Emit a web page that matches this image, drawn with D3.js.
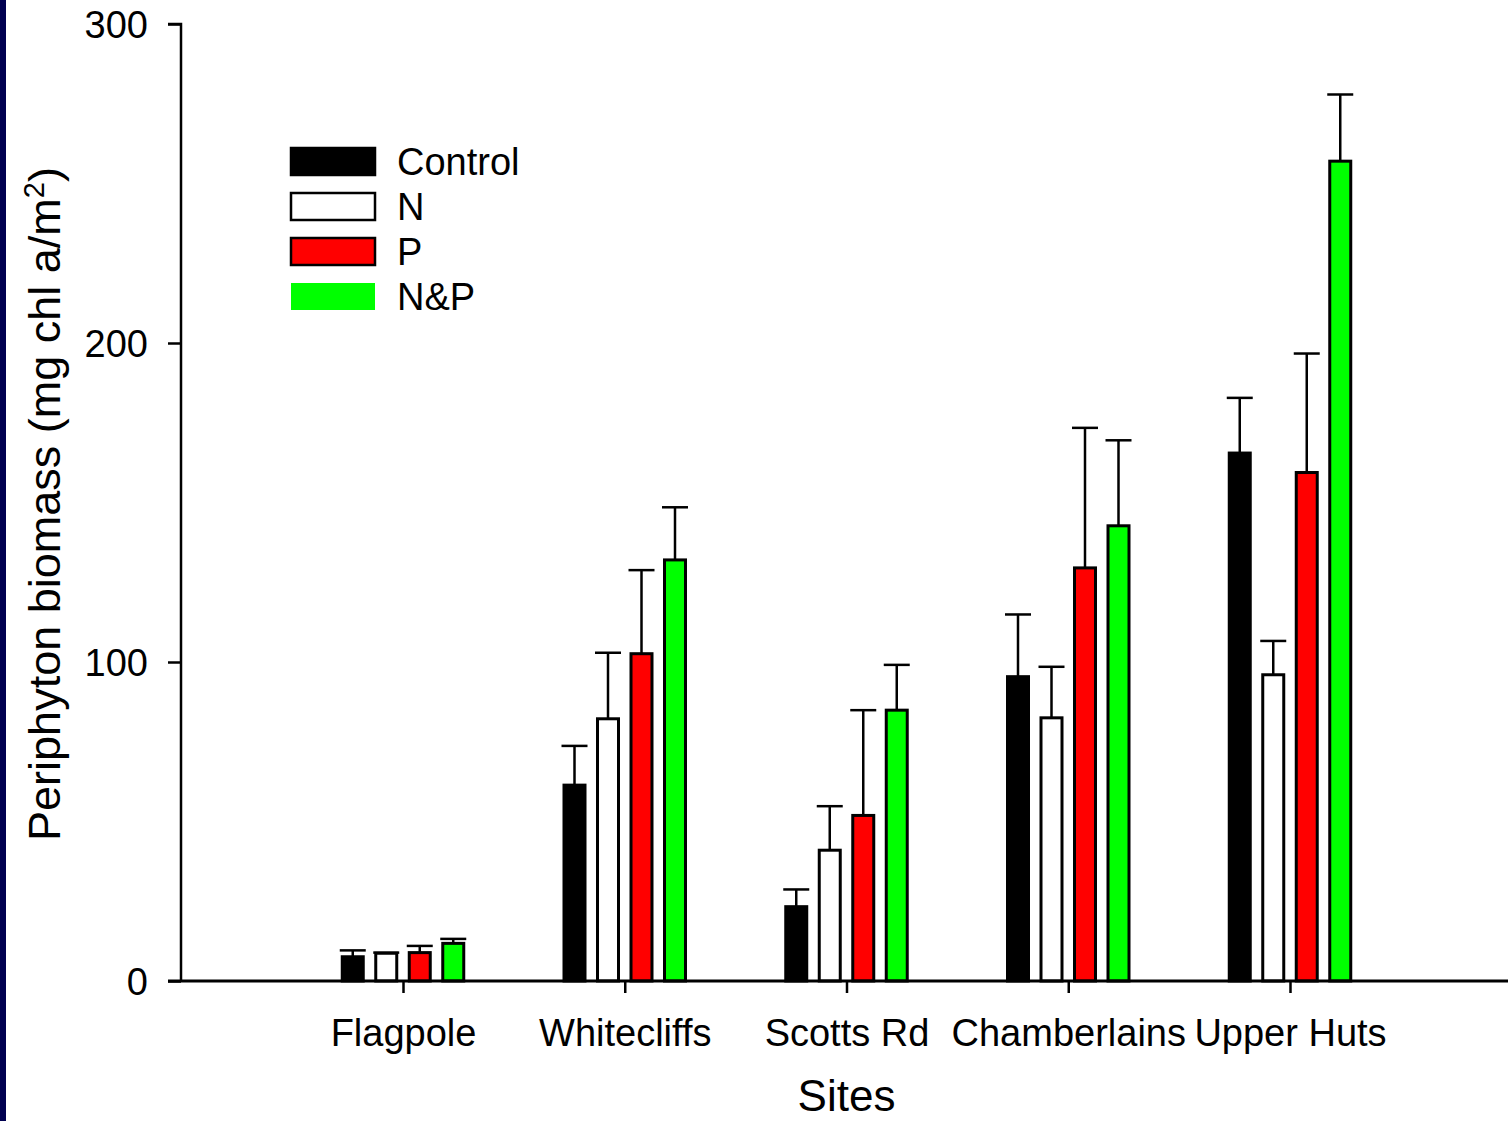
<!DOCTYPE html>
<html>
<head>
<meta charset="utf-8">
<script src="https://cdn.jsdelivr.net/npm/d3@7"></script>
<style>
  body { margin: 0; background: #fff; }
  svg text { font-family: Arial, "Liberation Sans", sans-serif; fill: #000; }
</style>
</head>
<body>
<svg id="chart"></svg>
<script>
// sites and treatments
var sites = ["Flagpole", "Whitecliffs", "Scotts Rd", "Chamberlains", "Upper Huts"];
var treatments = ["Control", "N", "P", "N&P"];
var colors = ["#000000", "#ffffff", "#ff0000", "#00ff00"];

// means per treatment (same order as sites)
var controlMean = [7.6, 61.4, 23.3, 95.4, 165.5];
var nMean = [8.7, 82.2, 41.0, 82.5, 96.0];
var pMean = [8.9, 102.6, 51.9, 129.5, 159.4];
var npMean = [11.8, 132.0, 84.9, 142.7, 257.0];

// upper error (SE) per treatment
var controlErr = [2.0, 12.3, 5.4, 19.5, 17.3];
var nErr = [0.2, 20.7, 13.8, 16.0, 10.6];
var pErr = [2.1, 26.2, 33.0, 43.9, 37.3];
var npErr = [1.4, 16.5, 14.2, 26.8, 20.9];

var yTicks = [0, 100, 200, 300];

var means = [controlMean, nMean, pMean, npMean];
var errs = [controlErr, nErr, pErr, npErr];

var W = 1508, H = 1121;
var svg = d3.select("#chart").attr("width", W).attr("height", H);

svg.append("rect").attr("x", 0).attr("y", 0).attr("width", 6).attr("height", H).attr("fill", "#000050");

var x0 = 181, x1 = 1508, yTop = 24, yBot = 981;

// sites sit at 1..5 on a 0..6 axis
var x = d3.scaleLinear().domain([0, 6]).range([181.25, 1511.75]);
var y = d3.scaleLinear().domain([0, 300]).range([yBot, yTop]);

var barStep = 33.5, barW = 21;
var offs = d3.scaleLinear().domain([0, 3]).range([-1.5 * barStep, 1.5 * barStep]);

var data = [];
sites.forEach(function (s, i) {
	treatments.forEach(function (t, j) {
		data.push({site: i, tr: j, value: means[j][i], err: errs[j][i]});
	});
});

// error bars (drawn first, bar sits over the stem)
var eb = svg.append("g").attr("stroke", "#000").attr("stroke-width", 2.5);
data.forEach(function (d) {
	var cx = x(d.site + 1) + offs(d.tr);
	eb.append("line").attr("x1", cx).attr("x2", cx).attr("y1", y(d.value)).attr("y2", y(d.value + d.err));
	eb.append("line").attr("x1", cx - 13).attr("x2", cx + 13).attr("y1", y(d.value + d.err)).attr("y2", y(d.value + d.err));
});

svg.append("g").selectAll("rect")
	.data(data)
	.enter().append("rect")
	.attr("x", function (d) { return x(d.site + 1) + offs(d.tr) - barW / 2; })
	.attr("y", function (d) { return y(d.value); })
	.attr("width", barW)
	.attr("height", function (d) { return yBot - y(d.value); })
	.attr("fill", function (d) { return colors[d.tr]; })
	.attr("stroke", "#000")
	.attr("stroke-width", 3);

// y axis
var yAxis = d3.axisLeft(y).tickValues(yTicks).tickSize(13).tickPadding(20).tickFormat(d3.format("d"));
var gy = svg.append("g").attr("transform", "translate(" + x0 + ",0)").call(yAxis);
gy.select(".domain").attr("stroke-width", 2.5).attr("d", "M-13," + yTop + "H0V" + yBot);
gy.selectAll(".tick line").attr("stroke-width", 2.5);
gy.selectAll(".tick text").style("font-size", "38px").attr("dy", "0.36em");

// x axis
var xAxis = d3.axisBottom(x).tickValues([1, 2, 3, 4, 5]).tickSize(12).tickPadding(26)
	.tickFormat(function (d) { return sites[d - 1]; });
var gx = svg.append("g").attr("transform", "translate(0," + yBot + ")").call(xAxis);
gx.select(".domain").attr("stroke-width", 3).attr("d", "M168,0H" + x1);
gx.selectAll(".tick line").attr("stroke-width", 2.5);
gx.selectAll(".tick text").style("font-size", "38px").attr("dy", "0.71em");

svg.append("text").attr("x", x(3)).attr("y", 1111).attr("text-anchor", "middle")
	.style("font-size", "44px").text("Sites");

var yl = svg.append("text")
	.attr("transform", "translate(44," + 504 + ")rotate(-90)")
	.attr("text-anchor", "middle")
	.attr("dy", "0.35em")
	.style("font-size", "45px");
yl.append("tspan").text("Periphyton biomass (mg chl a/m");
yl.append("tspan").attr("dy", "-16").style("font-size", "29px").text("2");
yl.append("tspan").attr("dy", "16").text(")");

// legend
var lg = svg.append("g").attr("transform", "translate(291,148)");
treatments.forEach(function (t, j) {
	lg.append("rect").attr("x", 0).attr("y", j * 45).attr("width", 84).attr("height", 27)
		.attr("fill", colors[j])
		.attr("stroke", j === 3 ? "none" : "#000").attr("stroke-width", 2.5);
	lg.append("text").attr("x", 106).attr("y", j * 45 + 27).style("font-size", "38px").text(t);
});
</script>
</body>
</html>
